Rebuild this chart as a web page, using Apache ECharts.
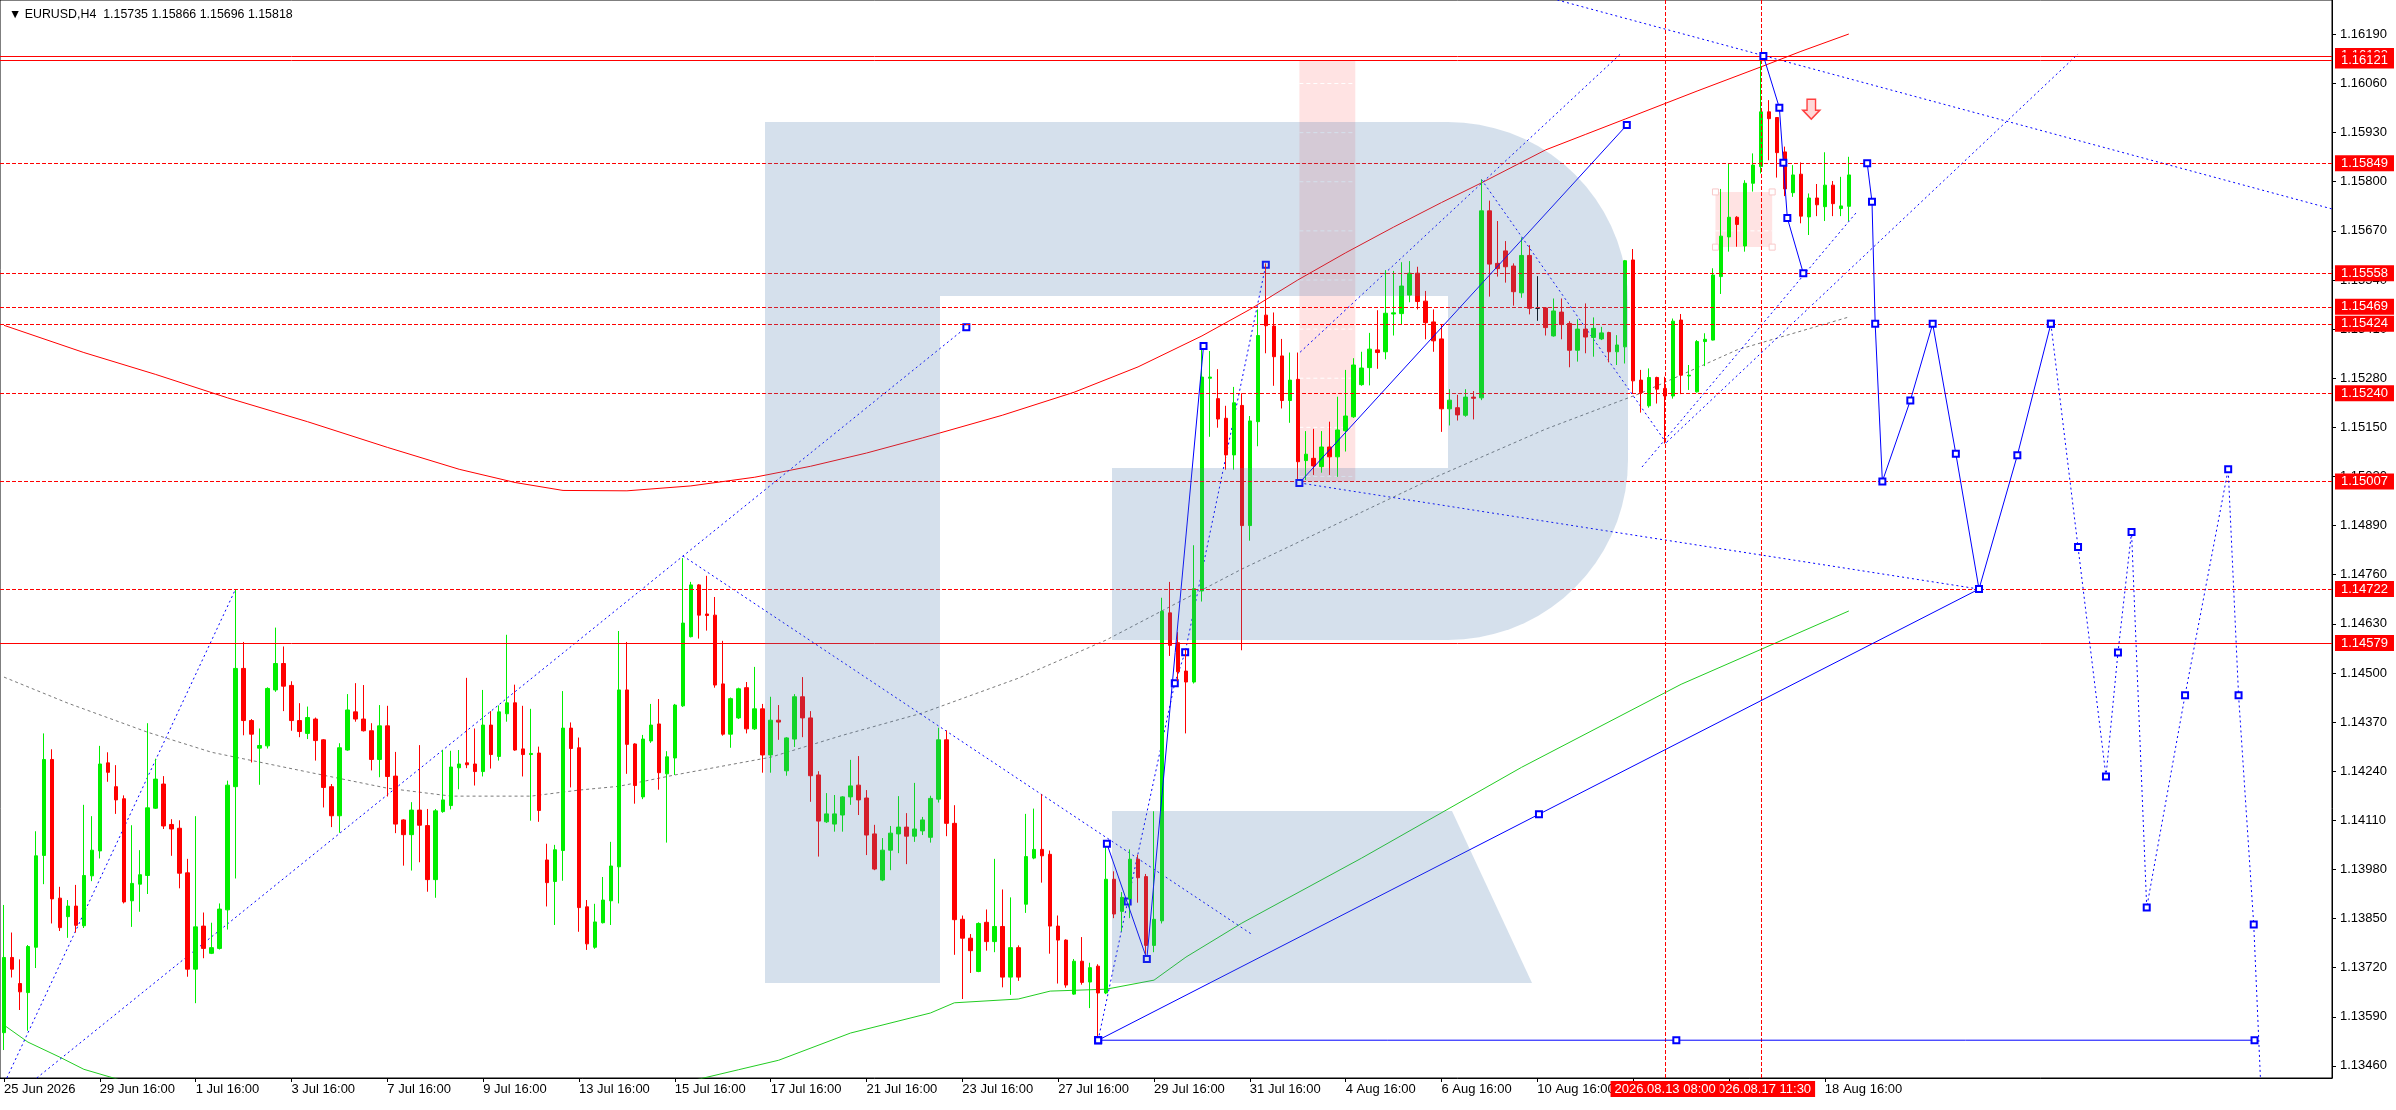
<!DOCTYPE html>
<html><head><meta charset="utf-8">
<script src="https://cdn.jsdelivr.net/npm/echarts@6/dist/echarts.min.js"></script>
<style>html,body{margin:0;padding:0;background:#fff;}#c{width:2396px;height:1110px;}</style>
</head><body><div id="c"></div>
<script>
// ---------------- DATA ----------------
// H4 candles [open, high, low, close], first bar = 25 Jun 2026 16:00
const candles = [
[1.13548,1.13886,1.13502,1.13747],[1.13747,1.13813,1.13694,1.13716],[1.13678,1.13742,1.13608,1.13656],[1.13654,1.13780,1.13553,1.13776],
[1.13774,1.14081,1.13719,1.14016],[1.14017,1.14340,1.13941,1.14271],[1.14271,1.14298,1.13837,1.13902],[1.13904,1.13934,1.13817,1.13826],
[1.13855,1.13899,1.13799,1.13883],[1.13883,1.13939,1.13813,1.13832],[1.13831,1.14151,1.13825,1.13964],[1.13963,1.14121,1.13949,1.14031],
[1.14029,1.14307,1.14009,1.14259],[1.14262,1.14290,1.14212,1.14237],[1.14199,1.14256,1.14127,1.14164],[1.14167,1.14176,1.13890,1.13894],
[1.13897,1.14097,1.13828,1.13943],[1.13941,1.14031,1.13868,1.13966],[1.13964,1.14367,1.13915,1.14143],[1.14142,1.14273,1.14140,1.14219],
[1.14206,1.14227,1.14087,1.14095],[1.14099,1.14113,1.14016,1.14087],[1.14089,1.14110,1.13930,1.13970],[1.13971,1.14008,1.13696,1.13716],
[1.13716,1.14121,1.13626,1.13828],[1.13830,1.13866,1.13745,1.13771],[1.13758,1.13839,1.13756,1.13773],[1.13771,1.13890,1.13768,1.13875],
[1.13873,1.14215,1.13821,1.14203],[1.14199,1.14721,1.13956,1.14512],[1.14512,1.14582,1.14335,1.14374],[1.14374,1.14378,1.14263,1.14338],
[1.14301,1.14353,1.14204,1.14308],[1.14307,1.14462,1.14300,1.14459],[1.14455,1.14620,1.14450,1.14525],[1.14525,1.14570,1.14399,1.14465],
[1.14467,1.14478,1.14347,1.14374],[1.14374,1.14420,1.14330,1.14345],[1.14340,1.14411,1.14325,1.14382],[1.14378,1.14382,1.14268,1.14321],
[1.14323,1.14325,1.14144,1.14197],[1.14199,1.14206,1.14092,1.14122],[1.14122,1.14314,1.14077,1.14302],[1.14296,1.14444,1.14294,1.14402],
[1.14397,1.14473,1.14371,1.14378],[1.14378,1.14468,1.14345,1.14347],[1.14347,1.14367,1.14242,1.14271],[1.14271,1.14415,1.14224,1.14360],
[1.14360,1.14413,1.14173,1.14226],[1.14227,1.14291,1.14076,1.14100],[1.14111,1.14113,1.13990,1.14072],[1.14072,1.14158,1.13977,1.14137],
[1.14137,1.14309,1.13999,1.14097],[1.14096,1.14140,1.13921,1.13953],[1.13953,1.14140,1.13905,1.14135],[1.14133,1.14296,1.14130,1.14164],
[1.14149,1.14294,1.14139,1.14251],[1.14249,1.14296,1.14192,1.14259],[1.14262,1.14487,1.14248,1.14257],[1.14259,1.14353,1.14202,1.14239],
[1.14239,1.14455,1.14226,1.14362],[1.14362,1.14399,1.14247,1.14284],[1.14279,1.14414,1.14268,1.14397],[1.14392,1.14601,1.14371,1.14421],
[1.14421,1.14469,1.14294,1.14296],[1.14299,1.14413,1.14226,1.14284],[1.14284,1.14405,1.14109,1.14287],[1.14288,1.14305,1.14106,1.14136],
[1.14005,1.14048,1.13882,1.13945],[1.13948,1.14045,1.13833,1.14032],[1.14030,1.14452,1.13950,1.14354],[1.14354,1.14369,1.14197,1.14300],
[1.14302,1.14329,1.13815,1.13879],[1.13881,1.13899,1.13767,1.13783],[1.13774,1.13889,1.13770,1.13841],[1.13839,1.13960,1.13837,1.13899],
[1.13897,1.14053,1.13833,1.13989],[1.13987,1.14611,1.13890,1.14455],[1.14455,1.14582,1.14233,1.14311],[1.14312,1.14314,1.14154,1.14202],
[1.14172,1.14336,1.14166,1.14325],[1.14320,1.14418,1.14315,1.14362],[1.14365,1.14431,1.14191,1.14236],[1.14233,1.14293,1.14051,1.14278],
[1.14275,1.14418,1.14230,1.14415],[1.14413,1.14804,1.14410,1.14632],[1.14596,1.14741,1.14594,1.14733],[1.14733,1.14735,1.14591,1.14653],
[1.14656,1.14757,1.14612,1.14652],[1.14653,1.14701,1.14461,1.14468],[1.14471,1.14585,1.14334,1.14338],[1.14338,1.14435,1.14302,1.14432],
[1.14381,1.14461,1.14378,1.14458],[1.14461,1.14476,1.14340,1.14352],[1.14352,1.14516,1.14349,1.14405],[1.14405,1.14418,1.14236,1.14283],
[1.14283,1.14437,1.14236,1.14375],[1.14375,1.14415,1.14323,1.14370],[1.14241,1.14330,1.14228,1.14328],[1.14325,1.14444,1.14304,1.14437],
[1.14437,1.14489,1.14330,1.14381],[1.14381,1.14399,1.14159,1.14228],[1.14230,1.14240,1.14014,1.14108],[1.14106,1.14182,1.14103,1.14127],
[1.14100,1.14177,1.14080,1.14127],[1.14124,1.14174,1.14080,1.14172],[1.14172,1.14270,1.14151,1.14201],[1.14203,1.14280,1.14124,1.14164],
[1.14169,1.14190,1.14018,1.14071],[1.14074,1.14098,1.13978,1.13981],[1.13952,1.14063,1.13949,1.14031],[1.14031,1.14095,1.13978,1.14076],
[1.14074,1.14174,1.14023,1.14092],[1.14092,1.14129,1.13994,1.14068],[1.14068,1.14209,1.14053,1.14087],[1.14082,1.14119,1.14071,1.14111],
[1.14065,1.14175,1.14051,1.14168],[1.14166,1.14355,1.14157,1.14323],[1.14323,1.14348,1.14068,1.14102],[1.14102,1.14150,1.13754,1.13847],
[1.13848,1.13858,1.13637,1.13798],[1.13798,1.13809,1.13706,1.13765],[1.13710,1.13840,1.13708,1.13837],[1.13840,1.13874,1.13765,1.13789],
[1.13789,1.14008,1.13761,1.13829],[1.13829,1.13927,1.13668,1.13695],[1.13695,1.13906,1.13648,1.13773],[1.13773,1.13779,1.13685,1.13695],
[1.13888,1.14127,1.13865,1.14014],[1.14010,1.14141,1.14007,1.14033],[1.14033,1.14179,1.13945,1.14016],[1.14020,1.14030,1.13757,1.13830],
[1.13830,1.13858,1.13678,1.13793],[1.13793,1.13795,1.13667,1.13674],[1.13650,1.13743,1.13648,1.13737],[1.13737,1.13801,1.13675,1.13681],
[1.13682,1.13733,1.13613,1.13720],[1.13724,1.13729,1.13529,1.13653],[1.13653,1.14044,1.13650,1.13954],[1.13954,1.13975,1.13851,1.13862],
[1.13869,1.13920,1.13816,1.13906],[1.13903,1.14033,1.13851,1.14007],[1.14007,1.14019,1.13892,1.13958],[1.13961,1.13968,1.13754,1.13779],
[1.13779,1.14134,1.13761,1.13848],[1.13844,1.14699,1.13837,1.14663],[1.14659,1.14741,1.14545,1.14573],[1.14580,1.14608,1.14479,1.14503],
[1.14505,1.14562,1.14340,1.14476],[1.14476,1.14838,1.14472,1.14723],[1.14717,1.15363,1.14689,1.15283],[1.15280,1.15352,1.15125,1.15283],
[1.15226,1.15304,1.15149,1.15172],[1.15174,1.15207,1.15038,1.15077],[1.15077,1.15257,1.15038,1.15215],[1.15208,1.15240,1.14560,1.14890],
[1.14890,1.15180,1.14850,1.15167],[1.15165,1.15462,1.15100,1.15393],[1.15447,1.15584,1.15346,1.15419],[1.15418,1.15454,1.15260,1.15337],
[1.15339,1.15384,1.15200,1.15221],[1.15221,1.15348,1.15162,1.15275],[1.15277,1.15348,1.15002,1.15059],[1.15062,1.15140,1.15011,1.15079],
[1.15068,1.15146,1.15024,1.15048],[1.15046,1.15140,1.15030,1.15098],[1.15098,1.15165,1.15024,1.15072],[1.15072,1.15231,1.15019,1.15143],
[1.15141,1.15302,1.15086,1.15180],[1.15178,1.15333,1.15175,1.15315],[1.15263,1.15350,1.15260,1.15307],[1.15308,1.15400,1.15261,1.15357],
[1.15355,1.15460,1.15305,1.15348],[1.15350,1.15566,1.15330,1.15452],[1.15450,1.15564,1.15393,1.15453],[1.15451,1.15587,1.15423,1.15524],
[1.15500,1.15590,1.15481,1.15558],[1.15558,1.15575,1.15462,1.15483],[1.15484,1.15511,1.15383,1.15427],[1.15429,1.15462,1.15350,1.15379],
[1.15384,1.15421,1.15138,1.15199],[1.15199,1.15251,1.15155,1.15222],[1.15202,1.15236,1.15168,1.15183],[1.15182,1.15251,1.15178,1.15230],
[1.15230,1.15246,1.15171,1.15227],[1.15228,1.15806,1.15222,1.15723],[1.15723,1.15750,1.15496,1.15582],[1.15584,1.15696,1.15549,1.15570],
[1.15617,1.15643,1.15533,1.15575],[1.15577,1.15584,1.15472,1.15509],[1.15506,1.15652,1.15493,1.15605],[1.15605,1.15632,1.15449,1.15465],
[1.15465,1.15550,1.15432,1.15465],[1.15466,1.15466,1.15393,1.15414],[1.15392,1.15491,1.15390,1.15458],[1.15455,1.15491,1.15383,1.15422],
[1.15425,1.15431,1.15309,1.15354],[1.15354,1.15436,1.15324,1.15410],[1.15410,1.15478,1.15346,1.15389],[1.15388,1.15441,1.15337,1.15412],
[1.15384,1.15416,1.15381,1.15400],[1.15401,1.15403,1.15322,1.15350],[1.15350,1.15394,1.15315,1.15368],[1.15363,1.15593,1.15319,1.15591],
[1.15593,1.15622,1.15240,1.15273],[1.15275,1.15302,1.15189,1.15242],[1.15207,1.15306,1.15202,1.15282],[1.15282,1.15284,1.15213,1.15251],
[1.15253,1.15284,1.15107,1.15233],[1.15233,1.15438,1.15226,1.15431],[1.15434,1.15450,1.15238,1.15288],[1.15286,1.15315,1.15249,1.15288],
[1.15244,1.15381,1.15242,1.15377],[1.15377,1.15399,1.15312,1.15383],[1.15381,1.15571,1.15380,1.15553],[1.15549,1.15781,1.15503,1.15656],
[1.15654,1.15849,1.15615,1.15706],[1.15706,1.15709,1.15628,1.15687],[1.15630,1.15804,1.15615,1.15796],[1.15796,1.15875,1.15774,1.15844],
[1.15840,1.16133,1.15822,1.15985],[1.15985,1.16016,1.15857,1.15967],[1.15970,1.15970,1.15811,1.15877],[1.15879,1.15893,1.15762,1.15781],
[1.15771,1.15844,1.15760,1.15818],[1.15820,1.15851,1.15690,1.15709],[1.15707,1.15769,1.15659,1.15757],[1.15757,1.15794,1.15709,1.15739],
[1.15734,1.15878,1.15696,1.15791],[1.15791,1.15802,1.15709,1.15742],[1.15729,1.15813,1.15709,1.15736],[1.15735,1.15866,1.15696,1.15818]
];
const symbolName = 'EURUSD,H4';
const firstBar = '2026-06-25T16:00:00Z';
const totalSlots = 292;
const xTickIdx = [0,12,24,36,48,60,72,84,96,108,120,132,144,156,168,180,192,204,216,228];
const xLabelIdx = [0,12,24,36,48,60,72,84,96,108,120,132,144,156,168,180,192,228];
const dateMarks = [[220,'2026.08.17 11:30'],[208,'2026.08.13 08:00']];
const yTicks = [1.13460,1.13590,1.13720,1.13850,1.13980,1.14110,1.14240,1.14370,1.14500,1.14630,1.14760,1.14890,1.15020,1.15150,1.15280,1.15410,1.15540,1.15670,1.15800,1.15930,1.16060,1.16190];
const yMin = 1.13428, yMax = 1.16281;
const levelsSolid = [1.16133,1.16121,1.14579];
const levelsDashed = [1.15849,1.15558,1.15469,1.15424,1.15240,1.15007,1.14722];
const lastPrice = 1.15818;
const maRed = [[0,1.15420],[10,1.15348],[19,1.15290],[28,1.15228],[38,1.15165],[48,1.15097],[57,1.15039],[64,1.15004],[70,1.14983],[78,1.14982],[86,1.14995],[94,1.15018],[101,1.15047],[108,1.15082],[115,1.15122],[125,1.15182],[134,1.15243],[142,1.15310],[150,1.15392],[156,1.15462],[162,1.15540],[168,1.15612],[174,1.15680],[180,1.15745],[185,1.15797],[193,1.15884],[198,1.15925],[203,1.15966],[212,1.16040],[220,1.16104],[225,1.16145],[231,1.16191]];
const maGreenA = [[0,1.13568],[3,1.13523],[7,1.13483],[10,1.13451],[15,1.13420]];
const maGreenB = [[86,1.13420],[92,1.13450],[97,1.13475],[106,1.13547],[116,1.13600],[119,1.13627],[127,1.13637],[131,1.13658],[138,1.13663],[144,1.13687],[148,1.13748],[155,1.13838],[170,1.14010],[190,1.14250],[210,1.14470],[231,1.14664]];
const grayCurve = [[0,1.14489],[8,1.14420],[18,1.14343],[26,1.14290],[38,1.14238],[48,1.14195],[56,1.14174],[66,1.14174],[72,1.14190],[77,1.14200],[84,1.14230],[96,1.14277],[105,1.14335],[115,1.14394],[127,1.14486],[138,1.14587],[155,1.14775],[179,1.15016],[193,1.15145],[205,1.15241],[217,1.15355],[231,1.15442]];
const dashedLines = [
 [[0.35,1.13428],[29,1.14722]],
 [[4.1,1.13428],[120.5,1.15415]],
 [[85,1.14810],[156.4,1.13806]],
 [[162.3,1.15349],[202.4,1.16138]],
 [[185,1.15806],[208.2,1.15107]],
 [[208.2,1.15111],[259.7,1.16138]],
 [[162.2,1.15003],[247.3,1.14722]],
 [[205.1,1.15045],[232,1.15720]],
 [[194.5,1.16281],[291.5,1.15728]]
];
const dashedMarked = [
 [[137,1.13528],[140.7,1.13895],[146.6,1.14473],[147.9,1.14555],[158,1.15580]],
 [[120.5,1.15415]]
];
const solidMarked = [
 [[137,1.13528],[209.4,1.13528],[281.8,1.13528]],
 [[137,1.13528],[192.2,1.14126],[247.3,1.14722]],
 [[138.1,1.14048],[143.1,1.13743],[150.2,1.15365]],
 [[162.2,1.15003],[203.2,1.15950]],
 [[220.3,1.16133],[222.3,1.15996],[222.8,1.15850],[223.3,1.15704],[225.3,1.15558]],
 [[233.3,1.15849],[233.9,1.15747],[234.3,1.15424],[235.2,1.15007],[238.7,1.15221],[241.5,1.15424],[244.4,1.15080],[247.3,1.14722],[252.1,1.15076],[256.3,1.15424]]
];
const forecastDotted = [[256.3,1.15424],[259.7,1.14833],[263.2,1.14226],[264.7,1.14554],[266.4,1.14873],[268.3,1.13879],[273.1,1.14441],[278.5,1.15039],[279.8,1.14441],[281.7,1.13834],[282.8,1.13300]];
const pinkRects = [[162.2,1.16121,169.2,1.15007],[214.3,1.15773,221.4,1.15627]];
const arrowPoint = [226.3,1.15992];

// ---------------- BUILD ----------------
const FONT = '"Liberation Sans","DejaVu Sans",sans-serif';
const FS = 13;
const MON = ['Jan','Feb','Mar','Apr','May','Jun','Jul','Aug','Sep','Oct','Nov','Dec'];
const barTimes = [];
(function(){ let t = Date.parse(firstBar); while (barTimes.length < totalSlots){ const d = new Date(t).getUTCDay(); if (d!==0 && d!==6) barTimes.push(t); t += 4*3600e3; } })();
const pad = n => (n<10?'0':'')+n;
function xLabel(i){ const d = new Date(barTimes[i]); if (i===0) return d.getUTCDate()+' '+MON[d.getUTCMonth()]+' '+d.getUTCFullYear(); return d.getUTCDate()+' '+MON[d.getUTCMonth()]+' '+pad(d.getUTCHours())+':'+pad(d.getUTCMinutes()); }
const last = candles[candles.length-1];

const series = [];
series.push({type:'custom', z:1, silent:true, animation:false, clip:true,
 encode:{x:[0,2], y:[1,3]}, data: pinkRects,
 renderItem(params, api){
   const p1 = api.coord([api.value(0), api.value(1)]), p2 = api.coord([api.value(2), api.value(3)]);
   const ch = [{type:'rect', shape:{x:p1[0], y:p1[1], width:p2[0]-p1[0], height:p2[1]-p1[1]}, style:{fill:'rgba(255,40,40,0.13)'}}];
   yTicks.forEach(v=>{ if (v < api.value(1) && v > api.value(3)) { const yy = api.coord([0,v])[1]; ch.push({type:'line', shape:{x1:p1[0], y1:yy, x2:p2[0], y2:yy}, style:{stroke:'#ffffff', lineDash:[4,3], lineWidth:1}}); } });
   if (params.dataIndex === 1) { [[p1[0],p1[1]],[p2[0],p1[1]],[p1[0],p2[1]],[p2[0],p2[1]]].forEach(q=>ch.push({type:'rect', shape:{x:q[0]-3,y:q[1]-3,width:6,height:6}, style:{fill:'#fff', stroke:'#f8c8c8', lineWidth:1}})); }
   return {type:'group', children: ch};
 }});
function addLine(pts, color, dash, markers, z){
  series.push({type:'line', data: pts, z: z||3, silent:true, animation:false, clip:true,
    symbol: markers ? 'emptyRect' : 'none', symbolSize: 6, showSymbol: !!markers, showAllSymbol: true,
    lineStyle:{color, width:1, type: dash || 'solid'}, itemStyle:{color, borderColor: color, borderWidth:1}});
}
addLine(grayCurve, '#7a7a7a', [3,3]);
addLine(maRed, '#ff0000', 'solid');
addLine(maGreenA, '#22cc22', 'solid');
addLine(maGreenB, '#22cc22', 'solid');
dashedLines.forEach(s=>addLine(s, '#0000ff', [2,3]));
dashedMarked.forEach(s=>addLine(s, '#0000ff', [2,3], true));
solidMarked.forEach(s=>addLine(s, '#0000ff', 'solid', true, 5));
addLine(forecastDotted, '#0000ff', [2,3], true, 5);

const lblBase = {show:true, color:'#fff', fontFamily:FONT, fontSize:FS, padding:[2,6,1,6]};
const mlData = [];
levelsSolid.forEach(v=>mlData.push({yAxis:v, lineStyle:{color:'#ff0000', type:'solid', width:1}, label:Object.assign({}, lblBase, {position:'end', distance:3, backgroundColor:'#ff0000', formatter: v.toFixed(5)})}));
levelsDashed.forEach(v=>mlData.push({yAxis:v, lineStyle:{color:'#ff0000', type:[4,2], width:1}, label:Object.assign({}, lblBase, {position:'end', distance:3, backgroundColor:'#ff0000', formatter: v.toFixed(5)})}));
mlData.push({yAxis:lastPrice, lineStyle:{opacity:0}, label:Object.assign({}, lblBase, {position:'end', distance:3, backgroundColor:'#000000', formatter: lastPrice.toFixed(5)})});
dateMarks.forEach(m=>mlData.push({xAxis:m[0], lineStyle:{color:'#ff0000', type:[4,2], width:1}, label:Object.assign({}, lblBase, {position:'start', distance:3, padding:[2,4,1,4], backgroundColor:'#ff0000', formatter: m[1]})}));

series.push({type:'candlestick', z:4, animation:false, silent:true, barWidth:4,
  data: candles.map((c,i)=>[i, c[0], c[3], c[2], c[1]]),
  itemStyle:{color:'#00ee00', color0:'#ff0000', borderColor:'#00ee00', borderColor0:'#ff0000', borderColorDoji:'#000000', borderWidth:1},
  markLine:{silent:true, animation:false, symbol:['none','none'], precision:5, data: mlData},
  markPoint:{silent:true, animation:false, data:[{coord: arrowPoint, symbol:'path://M4,0 L12,0 L12,11 L16,11 L8,20 L0,11 L4,11 Z', symbolSize:[17,20], itemStyle:{color:'rgba(255,200,200,0.7)', borderColor:'#ff4040', borderWidth:1.5}, label:{show:false}}]}
});

// watermark logo (decoration, pixel space)
const WM = 'rgba(80,125,176,0.24)';
const wm = (o)=>Object.assign({silent:true, z:100, style:{fill:WM}}, o);
function bowlPoints(){
  const pts = [[1448,122]];
  for (let a=-90; a<=0; a+=5){ const r=a*Math.PI/180; pts.push([1448+180*Math.cos(r), 302+180*Math.sin(r)]); }
  for (let a=0; a<=90; a+=5){ const r=a*Math.PI/180; pts.push([1448+180*Math.cos(r), 460+180*Math.sin(r)]); }
  return pts;
}

const option = {
  animation:false,
  backgroundColor:'#ffffff',
  title:{text:'\u25BC ' + symbolName + '  ' + last.map(v=>v.toFixed(5)).join(' '), left:4, top:4,
    textStyle:{fontFamily:FONT, fontSize:12.4, fontWeight:'normal', color:'#000'}},
  grid:{left:0, top:0, right:64, bottom:32, show:true, borderColor:'#000', borderWidth:1, backgroundColor:'transparent', containLabel:false},
  xAxis:{type:'value', min:-0.5, max: totalSlots-0.5, splitLine:{show:false},
    axisLine:{show:true, onZero:false, lineStyle:{color:'#000'}},
    axisTick:{show:true, customValues:xTickIdx, length:4, lineStyle:{color:'#000'}},
    axisLabel:{show:true, customValues:xLabelIdx, formatter:(v)=>xLabel(Math.round(v)), color:'#000', fontFamily:FONT, fontSize:FS, align:'left', margin:5, hideOverlap:false}},
  yAxis:{type:'value', position:'right', min:yMin, max:yMax, splitLine:{show:false},
    axisLine:{show:true, onZero:false, lineStyle:{color:'#000'}},
    axisTick:{show:true, customValues:yTicks, length:4, lineStyle:{color:'#000'}},
    axisLabel:{show:true, customValues:yTicks, formatter:(v)=>v.toFixed(5), color:'#000', fontFamily:FONT, fontSize:FS, margin:8, hideOverlap:false}},
  series,
  graphic:[
    wm({type:'rect', shape:{x:765, y:122, width:175, height:861}}),
    wm({type:'rect', shape:{x:940, y:122, width:508, height:174}}),
    wm({type:'polygon', shape:{points:bowlPoints()}}),
    wm({type:'rect', shape:{x:1112, y:468, width:336, height:172}}),
    wm({type:'polygon', shape:{points:[[1112,811],[1452,811],[1532,983],[1112,983]]}})
  ]
};
const chart = echarts.init(document.getElementById('c'), null, {renderer:'canvas', width:2396, height:1110});
chart.setOption(option);
</script></body></html>
